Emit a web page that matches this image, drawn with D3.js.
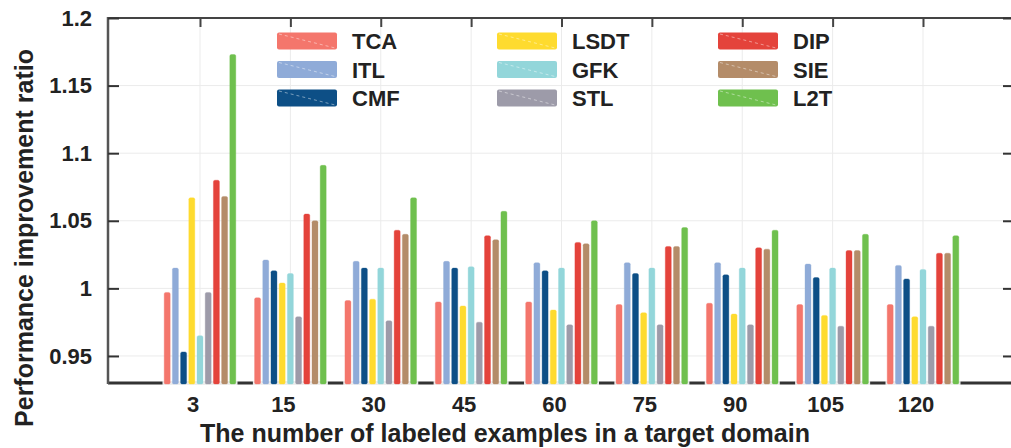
<!DOCTYPE html>
<html lang="en">
<head>
<meta charset="UTF-8">
<title>Performance improvement ratio</title>
<script src="https://d3js.org/d3.v7.min.js"></script>
<style>
  body { margin: 0; background: #fff; }
  svg text { font-family: "Liberation Sans", Arial, sans-serif; font-weight: bold; fill: #222; }
</style>
</head>
<body>
<div id="wrapper"></div>
<script>

// x categories = number of labeled examples
const groups = ["3", "15", "30", "45", "60", "75", "90", "105", "120"];

// methods, in legend / bar order
const methods = ["TCA", "ITL", "CMF", "LSDT", "GFK", "STL", "DIP", "SIE", "L2T"];
const colors = ["#f4766c", "#8fabd8", "#0d4f86", "#fedb2f", "#93d6da", "#9d9ba9", "#e4433b", "#b48c69", "#6fc04e"];

// one value per group for each method
const tca  = [0.997, 0.993, 0.991, 0.990, 0.990, 0.988, 0.989, 0.988, 0.988];
const itl  = [1.015, 1.021, 1.020, 1.020, 1.019, 1.019, 1.019, 1.018, 1.017];
const cmf  = [0.953, 1.013, 1.015, 1.015, 1.013, 1.011, 1.010, 1.008, 1.007];
const lsdt = [1.067, 1.004, 0.992, 0.987, 0.984, 0.982, 0.981, 0.980, 0.979];
const gfk  = [0.965, 1.011, 1.015, 1.016, 1.015, 1.015, 1.015, 1.015, 1.014];
const stl  = [0.997, 0.979, 0.976, 0.975, 0.973, 0.973, 0.973, 0.972, 0.972];
const dip  = [1.080, 1.055, 1.043, 1.039, 1.034, 1.031, 1.030, 1.028, 1.026];
const sie  = [1.068, 1.050, 1.040, 1.036, 1.033, 1.031, 1.029, 1.028, 1.026];
const l2t  = [1.173, 1.091, 1.067, 1.057, 1.050, 1.045, 1.043, 1.040, 1.039];

const yTicks = [0.95, 1, 1.05, 1.1, 1.15, 1.2];

const series = [tca, itl, cmf, lsdt, gfk, stl, dip, sie, l2t];
const data = [];
groups.forEach((g, i) => {
  methods.forEach((m, j) => data.push({ group: g, key: m, value: series[j][i] }));
});

const width = 1011, height = 448;
const plot = { left: 108, right: 1012, top: 18, bottom: 383 };

const svg = d3.select("#wrapper")
  .append("svg")
    .attr("width", width)
    .attr("height", height);

// scales
const x = d3.scalePoint()
  .domain(groups)
  .range([200, 923]);

const xSub = d3.scaleBand()
  .domain(methods)
  .range([-35.8, 35.8])
  .paddingInner(0.27);

const y = d3.scaleLinear()
  .domain([0.93, 1.2])
  .range([plot.bottom, plot.top]);

const color = d3.scaleOrdinal()
  .domain(methods)
  .range(colors);

// grid
svg.append("g")
  .selectAll("line")
  .data(yTicks)
  .join("line")
    .attr("x1", plot.left).attr("x2", plot.right)
    .attr("y1", d => y(d)).attr("y2", d => y(d))
    .attr("stroke", "#ebebeb");

svg.append("g")
  .selectAll("line")
  .data(groups)
  .join("line")
    .attr("x1", d => x(d)).attr("x2", d => x(d))
    .attr("y1", plot.top).attr("y2", plot.bottom)
    .attr("stroke", "#ebebeb");

// frame lines
svg.append("line")
  .attr("x1", plot.left).attr("x2", plot.right).attr("y1", plot.top).attr("y2", plot.top)
  .attr("stroke", "#444").attr("stroke-width", 2);
svg.append("line")
  .attr("x1", plot.left).attr("x2", plot.right).attr("y1", plot.bottom).attr("y2", plot.bottom)
  .attr("stroke", "#333").attr("stroke-width", 3);
svg.append("line")
  .attr("x1", plot.left).attr("x2", plot.left).attr("y1", plot.top - 1).attr("y2", plot.bottom + 1)
  .attr("stroke", "#555").attr("stroke-width", 2.5);

// left axis
svg.append("g")
  .attr("transform", `translate(${plot.left},0)`)
  .call(d3.axisLeft(y).tickValues(yTicks).tickSize(-11).tickPadding(16).tickFormat(d => d))
  .call(g => g.select(".domain").remove())
  .call(g => g.selectAll(".tick line").attr("stroke", "#333").attr("stroke-width", 2))
  .call(g => g.selectAll(".tick text").style("font-size", "22px").attr("fill", "#222"));

// right ticks
svg.append("g")
  .attr("transform", `translate(${plot.right},0)`)
  .call(d3.axisRight(y).tickValues(yTicks).tickSize(-9).tickFormat(""))
  .call(g => g.select(".domain").remove())
  .call(g => g.selectAll(".tick line").attr("stroke", "#333").attr("stroke-width", 2));

// top ticks
svg.append("g")
  .attr("transform", `translate(0,${plot.top})`)
  .call(d3.axisTop(x).tickSize(-9).tickFormat(""))
  .call(g => g.select(".domain").remove())
  .call(g => g.selectAll(".tick line").attr("stroke", "#444").attr("stroke-width", 2));

// light band under each group that hides the axis line
svg.append("g")
  .selectAll("rect")
  .data(groups)
  .join("rect")
    .attr("x", d => x(d) - 37.5)
    .attr("y", plot.bottom - 2)
    .attr("width", 75)
    .attr("height", 4)
    .attr("fill", "#eee");

// bars
svg.append("g")
  .selectAll("rect")
  .data(data)
  .join("rect")
    .attr("x", d => x(d.group) + xSub(d.key))
    .attr("y", d => y(d.value))
    .attr("width", xSub.bandwidth())
    .attr("height", d => plot.bottom + 1 - y(d.value))
    .attr("rx", 1.5)
    .attr("fill", d => color(d.key))
    .attr("stroke", d => color(d.key))
    .attr("stroke-opacity", 0.35)
    .attr("stroke-width", 1);

// x labels
svg.append("g")
  .selectAll("text")
  .data(groups)
  .join("text")
    .attr("x", d => x(d) - 7)
    .attr("y", 412)
    .attr("text-anchor", "middle")
    .style("font-size", "22px")
    .text(d => d);

// axis titles
svg.append("text")
  .attr("x", 505)
  .attr("y", 442)
  .attr("text-anchor", "middle")
  .style("font-size", "25px")
  .text("The number of labeled examples in a target domain");

svg.append("text")
  .attr("transform", "translate(33,238) rotate(-90)")
  .attr("text-anchor", "middle")
  .style("font-size", "25px")
  .text("Performance improvement ratio");

// legend, 3 columns x 3 rows
const legendCol = [277, 497, 718];
const legendRow = [41, 69.5, 98];

const legend = svg.append("g")
  .selectAll("g")
  .data(methods)
  .join("g")
    .attr("transform", (d, i) => `translate(${legendCol[Math.floor(i / 3)]},${legendRow[i % 3]})`);

legend.append("rect")
  .attr("x", 0).attr("y", -8.5)
  .attr("width", 60).attr("height", 17)
  .attr("rx", 2)
  .attr("fill", d => color(d));

legend.append("line")
  .attr("x1", 2).attr("y1", -7).attr("x2", 58).attr("y2", 7)
  .attr("stroke", "#fff").attr("stroke-opacity", 0.45)
  .attr("stroke-dasharray", "3,3");

legend.append("text")
  .attr("x", 75)
  .attr("y", 8)
  .style("font-size", "22px")
  .text(d => d);

</script>
</body>
</html>
